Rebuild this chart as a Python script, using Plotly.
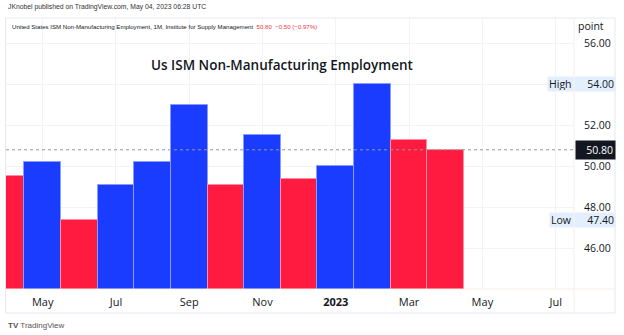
import plotly.graph_objects as go

# ---- data ----
months = ["2022-04", "2022-05", "2022-06", "2022-07", "2022-08", "2022-09", "2022-10",
          "2022-11", "2022-12", "2023-01", "2023-02", "2023-03", "2023-04"]
values = [49.5, 50.2, 47.4, 49.1, 50.2, 53.0, 49.1, 51.5, 49.4, 50.0, 54.0, 51.3, 50.8]
prior_value = 54.0  # Mar 2022, used only for the colour of the first bar
tick_positions = [1, 3, 5, 7, 9, 11, 13, 15]
tick_labels = ["May", "Jul", "Sep", "Nov", "<b>2023</b>", "Mar", "May", "Jul"]
y_ticks = [46, 48, 50, 52, 54, 56]

last_value = values[-1]
change = values[-1] - values[-2]
pct = change / values[-2] * 100
high_val = max(values)
low_val = min(values)

UP = "#1a3cff"
UP_EDGE = "#8a9bff"
DOWN = "#ff1a40"
DOWN_EDGE = "#ff8ca0"

prev = [prior_value] + values[:-1]
fills = [UP if v >= p else DOWN for v, p in zip(values, prev)]
edges = [UP_EDGE if v >= p else DOWN_EDGE for v, p in zip(values, prev)]
xs = list(range(len(values)))

W, H = 624, 335
L, R, T, B = 6, 50, 18, 46
PW = W - L - R
PH = H - T - B


def px(x):
    return (x - L) / PW


def py(y):
    return (H - B - y) / PH


FONT = "Open Sans"
SMALL = "Liberation Sans"
TXT = "#131722"

# tick labels hidden behind the High / Low labels are left blank
y_ticktext = ["" if min(abs(t - high_val), abs(t - low_val)) < 0.3 else f"{t:.2f}" for t in y_ticks]

fig = go.Figure()
fig.add_trace(go.Bar(
    x=xs, y=[v - 40 for v in values], base=40,
    marker=dict(color=fills, line=dict(color=edges, width=1)),
    width=1.0, hoverinfo="skip", showlegend=False,
))

fig.update_layout(
    width=W, height=H,
    margin=dict(l=L, r=R, t=T, b=B),
    paper_bgcolor="white", plot_bgcolor="white",
    font=dict(family=FONT, color=TXT),
    bargap=0,
    xaxis=dict(
        range=[0.0, 15.5], tickmode="array", tickvals=tick_positions, ticktext=tick_labels,
        showgrid=True, gridcolor="#f2f3f6", gridwidth=1, zeroline=False,
        showline=False, ticks="", tickfont=dict(size=11, color=TXT, family=FONT),
        ticklabelstandoff=5, fixedrange=True,
    ),
    yaxis=dict(
        range=[44.01, 57.23], side="right", tickmode="array", tickvals=y_ticks,
        ticktext=y_ticktext,
        showgrid=True, gridcolor="#f2f3f6", gridwidth=1, zeroline=False,
        showline=False, ticks="", tickfont=dict(size=10.5, color=TXT, family=FONT),
        ticklabelstandoff=9, fixedrange=True,
    ),
)

# chart frame and scale separators
fig.add_shape(type="rect", xref="paper", yref="paper",
              x0=px(5.5), x1=px(615), y0=py(313), y1=py(18),
              line=dict(color="#e6e8ee", width=1), layer="above")
fig.add_shape(type="line", xref="paper", yref="paper",
              x0=px(5.5), x1=px(615), y0=0, y1=0,
              line=dict(color="#f5eee4", width=1), layer="above")
fig.add_shape(type="line", xref="paper", yref="paper",
              x0=1, x1=1, y0=py(313), y1=py(18),
              line=dict(color="#f5eee4", width=1), layer="above")

# last value dotted line
fig.add_shape(type="line", xref="paper", yref="y",
              x0=0, x1=1, y0=last_value, y1=last_value,
              line=dict(color="#9598a1", width=1, dash="dot"), layer="above")

ann = []
# header texts
ann.append(dict(text="JKnobel published on TradingView.com, May 04, 2023 06:28 UTC",
                xref="paper", yref="paper", x=px(6), y=py(7), xanchor="left", yanchor="middle",
                showarrow=False, font=dict(size=6.8, color="#333333", family=SMALL)))
ann.append(dict(text=("United States ISM Non-Manufacturing Employment, 1M, Institute for Supply Management  "
                      f"<span style='color:#f23645'>{last_value:.2f}  \u2212{abs(change):.2f} (\u2212{abs(pct):.2f}%)</span>"),
                xref="paper", yref="paper", x=px(10), y=py(26), xanchor="left", yanchor="middle",
                showarrow=False, font=dict(size=6.1, color=TXT, family=SMALL)))
# title
ann.append(dict(text="Us ISM Non-Manufacturing Employment",
                xref="paper", yref="paper", x=px(282), y=py(65), xanchor="center", yanchor="middle",
                showarrow=False, font=dict(size=13.5, color=TXT, family=FONT, weight=600)))
# axis unit
ann.append(dict(text="point", xref="paper", yref="paper", x=px(606), y=py(26),
                xanchor="right", yanchor="middle", showarrow=False,
                font=dict(size=10.5, color=TXT, family=FONT)))
# High / Low labels
for name, val in (("High", high_val), ("Low", low_val)):
    ann.append(dict(text=name, xref="paper", yref="y", x=1, y=val, xanchor="right", yanchor="middle",
                    showarrow=False, bgcolor="#e3effd", borderpad=1, height=12,
                    font=dict(size=10.5, color=TXT, family=FONT)))
    ann.append(dict(text=f"{val:.2f}", xref="paper", yref="y", x=1, y=val, xanchor="left",
                    yanchor="middle", showarrow=False, bgcolor="#e3effd", borderpad=1,
                    width=38, height=12, align="right",
                    font=dict(size=10.5, color=TXT, family=FONT)))
# last value box
ann.append(dict(text=f"{last_value:.2f}", xref="paper", yref="y", x=px(574.5), y=last_value,
                xanchor="left", yanchor="middle", showarrow=False, bgcolor="#131722",
                borderpad=2, width=35, align="right",
                font=dict(size=10.5, color="white", family=FONT)))
# TradingView footer
ann.append(dict(text="<b>TV</b> TradingView", xref="paper", yref="paper", x=px(6), y=py(325),
                xanchor="left", yanchor="middle", showarrow=False,
                font=dict(size=8, color="#555555", family=SMALL)))

fig.update_layout(annotations=ann)
fig.write_html("out.html")
